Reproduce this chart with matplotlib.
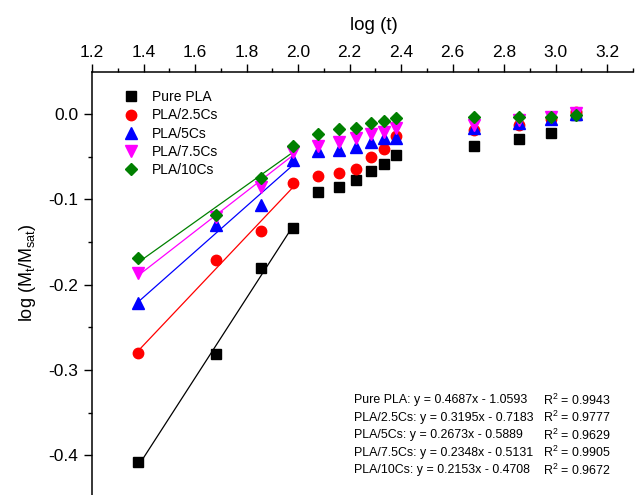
import matplotlib
matplotlib.use('Agg')
import matplotlib.pyplot as plt
from matplotlib.ticker import MultipleLocator, FormatStrFormatter

plt.rcParams['font.family'] = ['Liberation Sans', 'DejaVu Sans']
plt.rcParams['mathtext.default'] = 'regular'
plt.rcParams['axes.unicode_minus'] = False

# log(t), t in hours
log_t = [1.380, 1.681, 1.857, 1.982, 2.079, 2.158, 2.225, 2.283, 2.334, 2.380,
         2.681, 2.857, 2.982, 3.079]

pure_pla = [-0.4085, -0.2813, -0.180, -0.133, -0.0915, -0.085, -0.0768, -0.0665,
            -0.058, -0.048, -0.0372, -0.0293, -0.0223, -0.001]
pla_25cs = [-0.2798, -0.171, -0.137, -0.0803, -0.0725, -0.0689, -0.0642, -0.0501,
            -0.0411, -0.0251, -0.0184, -0.012, -0.005, 0.003]
pla_5cs = [-0.2218, -0.130, -0.1065, -0.0536, -0.0431, -0.0419, -0.0387, -0.0322,
           -0.0282, -0.0275, -0.016, -0.0106, -0.0055, 0.0]
pla_75cs = [-0.1866, -0.120, -0.085, -0.0439, -0.0372, -0.0322, -0.0282, -0.0228,
            -0.0204, -0.0164, -0.0126, -0.0067, -0.003, 0.002]
pla_10cs = [-0.1683, -0.1177, -0.0751, -0.0372, -0.0228, -0.0176, -0.0164, -0.0106,
            -0.0075, -0.004, -0.0028, -0.0028, -0.0028, -0.0008]

labels = ['Pure PLA', 'PLA/2.5Cs', 'PLA/5Cs', 'PLA/7.5Cs', 'PLA/10Cs']
slopes = [0.4687, 0.3195, 0.2673, 0.2348, 0.2153]
intercepts = [-1.0593, -0.7183, -0.5889, -0.5131, -0.4708]
r2 = ['0.9943', '0.9777', '0.9629', '0.9905', '0.9672']

series = [pure_pla, pla_25cs, pla_5cs, pla_75cs, pla_10cs]
colors = ['black', 'red', 'blue', 'magenta', 'green']
markers = ['s', 'o', '^', 'v', 'D']
msizes = [6.8, 7.5, 8.5, 8.5, 6.5]

fig = plt.figure(figsize=(6.38, 4.95), dpi=100)
ax = fig.add_axes([0.1442, 0.0, 0.848, 0.8545])

# fit lines over the first four points
n_fit = 4
for k in range(len(series)):
    x0, x1 = log_t[0], log_t[n_fit - 1]
    ax.plot([x0, x1], [slopes[k] * x0 + intercepts[k], slopes[k] * x1 + intercepts[k]],
            color=colors[k], lw=0.9, zorder=2)

for k in range(len(series)):
    ax.plot(log_t, series[k], linestyle='none', marker=markers[k], ms=msizes[k],
            color=colors[k], mec=colors[k], label=labels[k], zorder=3 + k)

ax.set_xlim(1.2, 3.3)
ax.set_ylim(-0.4468, 0.0496)

for s in ['right', 'bottom']:
    ax.spines[s].set_visible(False)
for s in ['top', 'left']:
    ax.spines[s].set_linewidth(1.1)

ax.xaxis.tick_top()
ax.xaxis.set_label_position('top')
ax.xaxis.set_major_locator(MultipleLocator(0.2))
ax.xaxis.set_minor_locator(MultipleLocator(0.1))
ax.xaxis.set_major_formatter(FormatStrFormatter('%.1f'))
ax.yaxis.set_major_locator(MultipleLocator(0.1))
ax.yaxis.set_minor_locator(MultipleLocator(0.05))
ax.yaxis.set_major_formatter(FormatStrFormatter('%.1f'))
ax.tick_params(which='major', direction='out', length=5.5, width=1.0, labelsize=12.5)
ax.tick_params(which='minor', direction='out', length=3, width=1.0)
ax.tick_params(axis='x', which='both', top=True, bottom=False, pad=3)
ax.tick_params(axis='y', which='both', left=True, right=False, pad=4.5)

ax.set_xlabel('log (t)', fontsize=13.5)
ax.xaxis.set_label_coords(0.521, 1.1)
ax.set_ylabel('log (M$_t$/M$_{sat}$)', fontsize=13)
ax.yaxis.set_label_coords(-0.1, 0.525)

ax.legend(loc='upper left', bbox_to_anchor=(0.046, 0.97), frameon=False, fontsize=10,
          handletextpad=0.95, labelspacing=0.3, borderaxespad=0, handlelength=1.2)

for k in range(len(labels)):
    yy = 400 + k * 17.6
    sign = '-' if intercepts[k] < 0 else '+'
    fig.text(354 / 638, 1 - yy / 495,
             '%s: y = %.4fx %s %.4f' % (labels[k], slopes[k], sign, abs(intercepts[k])),
             fontsize=8.9, va='center', ha='left')
    fig.text(543 / 638, 1 - yy / 495, 'R$^2$ = ' + r2[k], fontsize=8.9, va='center', ha='left')

fig.savefig('out.png', dpi=100)
